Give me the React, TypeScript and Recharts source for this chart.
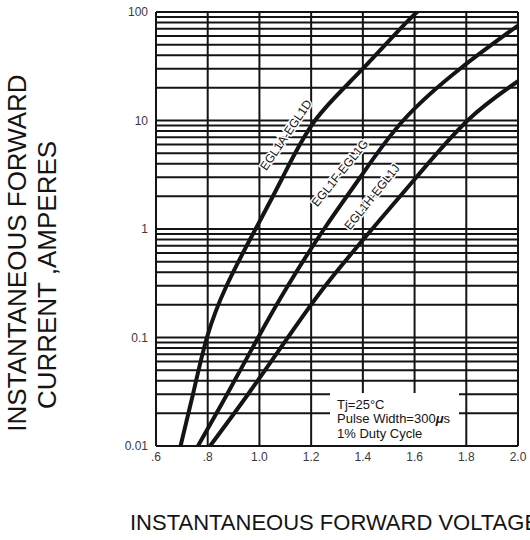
import React from 'react';
import { LineChart, Line, XAxis, YAxis, CartesianGrid } from 'recharts';

// forward voltage (V) vs instantaneous current (A)
const egl1aVolts = [0.695, 0.743, 0.797, 0.873, 0.985, 1.09, 1.215, 1.4, 1.61, 1.672];
const egl1aAmps = [0.01, 0.03, 0.1, 0.3, 1, 3, 10, 30, 100, 104];

const egl1fVolts = [0.762, 0.875, 0.995, 1.11, 1.25, 1.39, 1.556, 1.776, 2.0];
const egl1fAmps = [0.01, 0.03, 0.1, 0.3, 1, 3, 10, 30, 75];

const egl1hVolts = [0.809, 0.956, 1.11, 1.255, 1.436, 1.607, 1.805, 2.0];
const egl1hAmps = [0.01, 0.03, 0.1, 0.3, 1, 3, 10, 23];

const xTicks = [0.6, 0.8, 1.0, 1.2, 1.4, 1.6, 1.8, 2.0];
const xTickLabels = ['.6', '.8', '1.0', '1.2', '1.4', '1.6', '1.8', '2.0'];

const yDecades = [0.01, 0.1, 1, 10, 100];
const yDecadeLabels = ['0.01', '0.1', '1', '10', '100'];
const yGrid = [
  0.01, 0.02, 0.03, 0.04, 0.05, 0.06, 0.07, 0.08, 0.09,
  0.1, 0.2, 0.3, 0.4, 0.5, 0.6, 0.7, 0.8, 0.9,
  1, 2, 3, 4, 5, 6, 7, 8, 9,
  10, 20, 30, 40, 50, 60, 70, 80, 90,
  100,
];

const toRows = (volts: number[], amps: number[]) => volts.map((v, k) => ({ v, i: amps[k] }));

const curves = [
  { name: 'EGL1A-EGL1D', data: toRows(egl1aVolts, egl1aAmps) },
  { name: 'EGL1F-EGL1G', data: toRows(egl1fVolts, egl1fAmps) },
  { name: 'EGL1H-EGL1J', data: toRows(egl1hVolts, egl1hAmps) },
];

const FONT = '"Liberation Sans", Arial, sans-serif';
const INK = '#141414';

const fmtX = (v: number) => {
  const k = xTicks.findIndex((t) => Math.abs(t - v) < 1e-6);
  return k >= 0 ? xTickLabels[k] : '';
};

const fmtY = (v: number) => {
  const k = yDecades.findIndex((t) => Math.abs(t - v) / t < 1e-6);
  return k >= 0 ? yDecadeLabels[k] : '';
};

const curveLabel = (text: string, x: number, y: number, angle: number) => (
  <text
    x={x}
    y={y}
    transform={`rotate(${angle}, ${x}, ${y})`}
    textAnchor="middle"
    dominantBaseline="central"
    fontSize={12}
    fill={INK}
    stroke="#fff"
    strokeWidth={3}
    paintOrder="stroke"
    style={{ fontFamily: FONT }}
  >
    {text}
  </text>
);

export default function App() {
  return (
    <div style={{ position: 'absolute', left: 0, top: 0, width: 530, height: 540, fontFamily: FONT }}>
      <LineChart width={530} height={540} margin={{ top: 12, right: 12, bottom: 0, left: 0 }}>
        <CartesianGrid
          stroke={INK}
          strokeWidth={2}
          horizontal={{ stroke: INK, strokeWidth: 2 }}
          vertical={{ stroke: INK, strokeWidth: 2 }}
          horizontalValues={yGrid}
          verticalValues={xTicks}
        />
        <XAxis
          dataKey="v"
          type="number"
          domain={[0.6, 2.0]}
          ticks={xTicks}
          interval={0}
          tickFormatter={fmtX}
          tickSize={0}
          tickMargin={6}
          height={94}
          axisLine={{ stroke: INK, strokeWidth: 2 }}
          tick={{ fill: '#3a3a3a', fontSize: 12, fontFamily: FONT }}
          allowDataOverflow
        />
        <YAxis
          dataKey="i"
          type="number"
          scale="log"
          domain={[0.01, 100]}
          ticks={yGrid}
          interval={0}
          tickFormatter={fmtY}
          tickSize={0}
          tickMargin={8}
          width={156}
          axisLine={{ stroke: INK, strokeWidth: 2 }}
          tick={{ fill: '#3a3a3a', fontSize: 12, fontFamily: FONT }}
          allowDataOverflow
        />
        {curves.map((c) => (
          <Line
            key={c.name}
            data={c.data}
            dataKey="i"
            type="natural"
            stroke={INK}
            strokeWidth={4}
            dot={false}
            activeDot={false}
            isAnimationActive={false}
          />
        ))}

        {curveLabel('EGL1A-EGL1D', 286, 135, -56)}
        {curveLabel('EGL1F-EGL1G', 340, 173, -51)}
        {curveLabel('EGL1H-EGL1J', 372, 197, -51)}

        <rect x={330} y={393} width={129} height={52} fill="#fff" />
        <text x={337} y={409} fontSize={13} fill={INK} style={{ fontFamily: FONT }}>
          Tj=25°C
        </text>
        <text x={337} y={423} fontSize={13} fill={INK} style={{ fontFamily: FONT }}>
          Pulse Width=300<tspan fontStyle="italic" fontWeight="bold">μ</tspan>s
        </text>
        <text x={337} y={438} fontSize={13} fill={INK} style={{ fontFamily: FONT }}>
          1% Duty Cycle
        </text>

        <text
          x={26}
          y={253}
          transform="rotate(-90, 26, 253)"
          textAnchor="middle"
          fontSize={26}
          fill={INK}
          style={{ fontFamily: FONT }}
        >
          INSTANTANEOUS FORWARD
        </text>
        <text
          x={56}
          y={275}
          transform="rotate(-90, 56, 275)"
          textAnchor="middle"
          fontSize={26}
          fill={INK}
          style={{ fontFamily: FONT }}
        >
          CURRENT ,AMPERES
        </text>
        <text x={130} y={530} fontSize={22} fill={INK} style={{ fontFamily: FONT }}>
          INSTANTANEOUS FORWARD VOLTAGE,VOLTS
        </text>
      </LineChart>
    </div>
  );
}
